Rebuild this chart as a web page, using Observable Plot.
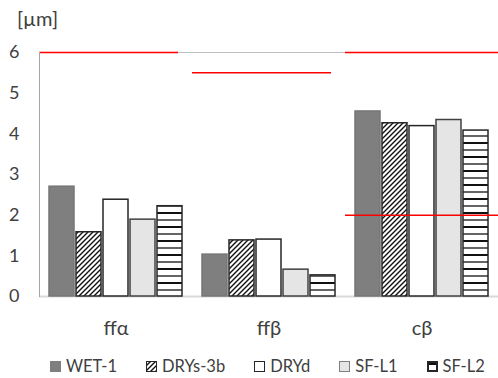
<!DOCTYPE html>
<html><head><meta charset="utf-8">
<script src="https://cdn.jsdelivr.net/npm/d3@7"></script>
<script src="https://cdn.jsdelivr.net/npm/@observablehq/plot@0.6"></script>
<style>
body{margin:0;background:#fff;font-family:Lato, sans-serif;color:#404040;}
#wrap{position:relative;width:498px;height:378px;overflow:hidden;}
#chart{position:absolute;left:0;top:0;}
#unit{position:absolute;left:17px;top:6px;font-size:20px;line-height:24px;}
#legend{position:absolute;top:356px;left:50px;display:flex;gap:29px;font-size:16.5px;align-items:center;}
#legend .it{display:flex;align-items:center;gap:5px;}
</style></head>
<body>
<div id="wrap">
  <div id="chart"></div>
  <div id="unit">[µm]</div>
  <div id="legend"></div>
</div>
<script>
const categories = ["ffα", "ffβ", "cβ"];
const series = ["WET-1", "DRYs-3b", "DRYd", "SF-L1", "SF-L2"];
const wet1   = [2.70, 1.03, 4.55];
const drys3b = [1.58, 1.38, 4.26];
const dryd   = [2.38, 1.40, 4.19];
const sfl1   = [1.89, 0.66, 4.34];
const sfl2   = [2.22, 0.52, 4.08];
const yTicks = [0, 1, 2, 3, 4, 5, 6];
const limitCats = ["ffα", "ffβ", "cβ", "cβ"];
const limitVals = [6, 5.5, 6, 2];

const valuesBySeries = [wet1, drys3b, dryd, sfl1, sfl2];
const rows = [];
series.forEach((s, si) => categories.forEach((c, ci) => rows.push({series: s, cat: c, value: valuesBySeries[si][ci]})));
const limits = limitCats.map((c, i) => ({cat: c, y: limitVals[i]}));

const fillOf = {"WET-1": "#7f7f7f", "DRYs-3b": "url(#hatch)", "DRYd": "#ffffff", "SF-L1": "#e5e5e5", "SF-L2": "url(#hstripe)"};
const strokeOf = {"WET-1": "#767676", "DRYs-3b": "#262626", "DRYd": "#262626", "SF-L1": "#404040", "SF-L2": "#262626"};

const chart = Plot.plot({
  width: 498, height: 340,
  marginLeft: 39, marginRight: 0, marginTop: 52, marginBottom: 44,
  style: {fontFamily: "Lato, sans-serif", fontSize: "18px", color: "#404040", background: "white"},
  fx: {domain: categories, padding: 0, label: null, axis: null},
  x: {domain: series, paddingInner: 0.08, paddingOuter: 0.35, axis: null},
  y: {domain: [0, 6], ticks: yTicks, tickFormat: d3.format("d"), tickSize: 0, tickPadding: 20, label: null},
  color: {type: "identity"},
  marks: [
    Plot.ruleY([6], {stroke: "#bfbfbf", strokeWidth: 1}),
    Plot.ruleY([0], {stroke: "#d9d9d9", strokeWidth: 2}),
    Plot.barY(rows, {fx: "cat", x: "series", y: "value", fill: d => fillOf[d.series], stroke: d => strokeOf[d.series], strokeWidth: 1.5}),
    Plot.ruleY(limits, {filter: d => d.cat !== "cβ", fx: "cat", y: "y", stroke: "#ff0000", strokeWidth: 1.5, insetRight: 14}),
    Plot.ruleY(limits, {filter: d => d.cat === "cβ", fx: "cat", y: "y", stroke: "#ff0000", strokeWidth: 1.5}),
    Plot.frame({anchor: "left", facetAnchor: "left", stroke: "#a6a6a6"}),
    Plot.axisFx({anchor: "bottom", tickSize: 0, tickPadding: 24, fontSize: 20, label: null})
  ]
});

const svg = d3.select(chart);
const defs = svg.insert("defs", ":first-child");
const h = defs.append("pattern").attr("id", "hatch").attr("patternUnits", "userSpaceOnUse").attr("width", 5).attr("height", 5);
h.append("rect").attr("width", 5).attr("height", 5).attr("fill", "#fff");
h.append("path").attr("d", "M-1,1 l2,-2 M0,5 l5,-5 M4,6 l2,-2").attr("stroke", "#111").attr("stroke-width", 1.4);
const s = defs.append("pattern").attr("id", "hstripe").attr("patternUnits", "userSpaceOnUse").attr("width", 8).attr("height", 14);
s.append("rect").attr("width", 8).attr("height", 14).attr("fill", "#fff");
s.append("line").attr("x1", 0).attr("x2", 8).attr("y1", 3).attr("y2", 3).attr("stroke", "#111").attr("stroke-width", 2);
s.append("line").attr("x1", 0).attr("x2", 8).attr("y1", 10).attr("y2", 10).attr("stroke", "#111").attr("stroke-width", 1.3);
document.getElementById("chart").appendChild(chart);

const legend = document.getElementById("legend");
series.forEach(sr => {
  const it = document.createElement("div");
  it.className = "it";
  const bw = sr === "WET-1" ? 0 : (sr === "SF-L2" ? 2 : 1);
  const bc = sr === "SF-L1" ? "#7f7f7f" : "#262626";
  it.innerHTML = `<svg width="11" height="11"><rect x="${bw/2}" y="${bw/2}" width="${11-bw}" height="${11-bw}" fill="${fillOf[sr]}" stroke="${bw ? bc : "none"}" stroke-width="${bw}"/></svg><span>${sr}</span>`;
  legend.appendChild(it);
});
</script>
</body></html>
